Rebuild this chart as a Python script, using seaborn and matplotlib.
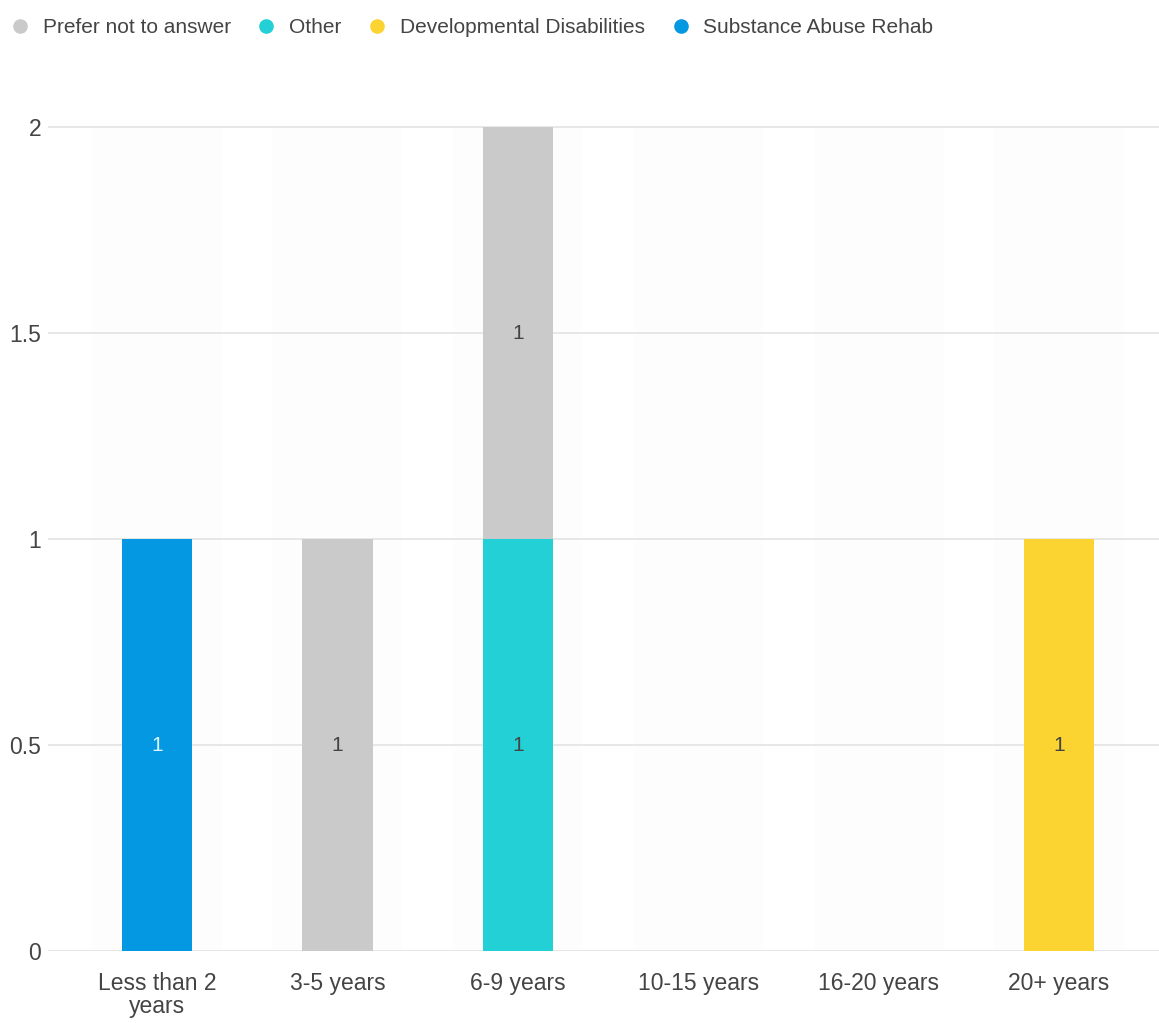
import numpy as np
import pandas as pd
import seaborn as sns
import matplotlib.pyplot as plt
from matplotlib.lines import Line2D

sns.set_style("white")
plt.rcParams['font.family'] = ['Liberation Sans', 'DejaVu Sans']

categories = ["Less than 2\nyears", "3-5 years", "6-9 years", "10-15 years", "16-20 years", "20+ years"]
prefer_not = [0, 1, 1, 0, 0, 0]
other = [0, 0, 1, 0, 0, 0]
developmental = [0, 0, 0, 0, 0, 1]
substance = [1, 0, 0, 0, 0, 0]

# stacked bottom-up; legend lists them top-down
series = [
    ("Substance Abuse Rehab", substance, "#0598E2", "#dff4ff"),
    ("Developmental Disabilities", developmental, "#FBD432", "#444444"),
    ("Other", other, "#22D0D6", "#444444"),
    ("Prefer not to answer", prefer_not, "#CACACA", "#444444"),
]

fig = plt.figure(figsize=(11.59, 10.23), dpi=100)
ax = fig.add_axes([0.0414, 0.0704, 0.9586, 0.8066])

# faint category bands
for i in range(len(categories)):
    ax.axvspan(i - 0.36, i + 0.36, color="#fdfdfd", zorder=0, lw=0)

bottom = np.zeros(len(categories))
for name, vals, col, txtcol in series:
    df = pd.DataFrame({"cat": categories, "val": vals})
    sns.barplot(data=df, x="cat", y="val", color=col, width=0.39, bottom=bottom,
                errorbar=None, saturation=1, ax=ax, zorder=3, linewidth=0)
    cont = ax.containers[-1]
    ax.bar_label(cont, labels=[str(v) if v else "" for v in vals], label_type="center",
                 color=txtcol, fontsize=15)
    bottom = bottom + np.array(vals)

ax.set_xlim(-0.604, 5.554)
ax.set_ylim(0, 2.003)
ax.set_yticks([0, 0.5, 1, 1.5, 2])
ax.set_yticklabels(["0", "0.5", "1", "1.5", "2"])
ax.yaxis.grid(True, color="#e3e3e3", linewidth=1.2, zorder=1)
ax.set_axisbelow(True)
sns.despine(ax=ax, left=True, bottom=True, top=True, right=True)
ax.tick_params(axis="both", length=0, labelsize=16.5, labelcolor="#444444")
ax.tick_params(axis="y", pad=5)
ax.tick_params(axis="x", pad=15)
for t in ax.get_xticklabels():
    t.set_linespacing(1.0)
ax.set_xlabel("")
ax.set_ylabel("")

handles = [Line2D([], [], marker="o", linestyle="", markersize=9.5,
                  markerfacecolor=c, markeredgecolor=c, label=n)
           for n, _, c, _ in series[::-1]]
leg = fig.legend(handles=handles, loc="upper left", bbox_to_anchor=(9.6 / 1159, 1 - 18 / 1023),
                 ncol=4, frameon=False, fontsize=15, handletextpad=0.6, columnspacing=1.2,
                 handlelength=1.0, borderaxespad=0, borderpad=0)
for t in leg.get_texts():
    t.set_color("#444444")

fig.savefig("out.png", dpi=100, facecolor="white")
